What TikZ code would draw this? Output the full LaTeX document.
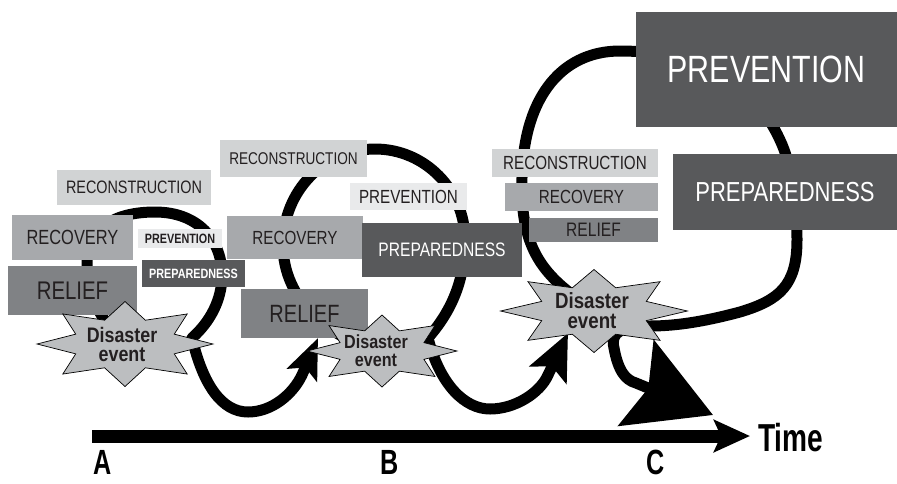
\documentclass[tikz,border=0pt]{standalone}
\usepackage{fontspec}
\setmainfont{Liberation Sans}
\newfontfamily\condfont[FakeStretch=0.8]{Liberation Sans}
\newfontfamily\starfont[FakeStretch=0.85]{Liberation Sans}
\newfontfamily\axisfont[FakeStretch=0.72]{Liberation Sans}
\usetikzlibrary{arrows.meta,shapes.geometric}
\definecolor{palegrey}{HTML}{E9EAEB}
\definecolor{lightgrey}{HTML}{D1D3D4}
\definecolor{midgrey}{HTML}{A7A9AC}
\definecolor{reliefgrey}{HTML}{808285}
\definecolor{darkgrey}{HTML}{58595B}
\definecolor{stargrey}{HTML}{BCBEC0}
\definecolor{labeltext}{HTML}{231F20}
\begin{document}
\begin{tikzpicture}
[x=1pt, y=-1pt,
  boxDecorate/.style={shape=rectangle, inner sep=0pt, text=labeltext},
  boxPale/.style={boxDecorate, fill=palegrey},
  boxLight/.style={boxDecorate, fill=lightgrey},
  boxMid/.style={boxDecorate, fill=midgrey},
  boxRelief/.style={boxDecorate, fill=reliefgrey},
  boxDark/.style={boxDecorate, fill=darkgrey, text=white},
  starDecorate/.style={shape=star, star points=8, star point ratio=1.65,
    inner sep=0pt, draw=black, line width=0.7pt, fill=stargrey},
  starText/.style={align=center, text=labeltext, inner sep=0pt},
  lineDecorate/.style={line width=11pt, line join=round},
  axisText/.style={inner sep=0pt, anchor=base,
    font=\axisfont\bfseries\fontsize{39}{39}\selectfont}]
\useasboundingbox[fill=white] (0,0) rectangle (897,483);
%% centres of the disaster events and arrow ends
\coordinate (centreA) at (125,344);
\coordinate (centreB) at (382,351);
\coordinate (centreC) at (594,311);
\coordinate (tipB) at (318,338);
\coordinate (tipC) at (568,333);
\coordinate (tipEnd) at (713,415);
\coordinate (axisStart) at (92,436);
\coordinate (axisEnd) at (750,436);
%% cycle lines
\draw[lineDecorate, -{Stealth[length=40pt,width=32pt,inset=8pt]}]
  (centreA) .. controls (100,320) and (87,295) .. (87,262)
  .. controls (87,228) and (115,212) .. (155,212)
  .. controls (198,212) and (222,240) .. (222,275)
  .. controls (222,300) and (210,322) .. (192,338)
  .. controls (203,385) and (222,412) .. (248,412)
  .. controls (272,412) and (293,394) .. (302,375) -- (tipB);
\draw[lineDecorate, -{Stealth[length=46pt,width=40pt,inset=9pt]}]
  (centreB) .. controls (330,340) and (283,300) .. (283,245)
  .. controls (283,190) and (325,149) .. (375,149)
  .. controls (425,149) and (465,190) .. (465,240)
  .. controls (465,285) and (448,315) .. (428,338)
  .. controls (440,385) and (465,409) .. (490,409)
  .. controls (515,409) and (540,393) .. (548,375) -- (tipC);
\draw[lineDecorate, -{Stealth[length=83pt,width=92pt,inset=13pt]}]
  (centreC) .. controls (560,285) and (522,265) .. (522,190)
  .. controls (520,100) and (560,51) .. (620,51)
  .. controls (700,51) and (755,85) .. (780,140)
  .. controls (792,165) and (797,205) .. (797,240)
  .. controls (797,285) and (780,300) .. (740,312)
  .. controls (710,320) and (680,326) .. (650,326)
  .. controls (622,326) and (610,332) .. (614,348)
  .. controls (618,370) and (625,380) .. (636,383) -- (tipEnd);
%% phase boxes
\foreach \boxname/\x/\y/\w/\h/\tone/\fsize/\word in {
  reconA/134/187.5/154/35/boxLight/18/RECONSTRUCTION,
  recovA/72.5/237.5/121/45/boxMid/20.5/RECOVERY,
  prevA/180/238.5/84/19/boxPale/13.5/{\bfseries PREVENTION},
  prepA/193.5/273.5/103/27/boxDark/13.5/{\bfseries PREPAREDNESS},
  reliefA/72.5/290.5/129/49/boxRelief/25.5/RELIEF,
  reconB/293.5/158.5/147/37/boxLight/17/RECONSTRUCTION,
  prevB/408.5/196.5/117/27/boxPale/19/PREVENTION,
  recovB/295/237.5/136/43/boxMid/19/RECOVERY,
  prepB/442/250/160/54/boxDark/19.5/PREPAREDNESS,
  reliefB/304.5/313.5/127/49/boxRelief/25/RELIEF,
  prevC/766.5/69.5/261/115/boxDark/38/PREVENTION,
  prepC/785/192/224/76/boxDark/27.5/PREPAREDNESS,
  reconC/575/163/166/28/boxLight/19/RECONSTRUCTION,
  recovC/581.5/197/153/28/boxMid/19/RECOVERY,
  reliefC/593.5/230/129/24/boxRelief/19.5/RELIEF}
{
  \node (\boxname) at (\x,\y) [\tone, minimum width=\w, minimum height=\h,
    font=\condfont\fontsize{\fsize}{\fsize}\selectfont] {\word};
}
%% disaster events
\foreach \nodename/\diam/\stretch/\fsize/\skip/\tx in {
  A/85/2.07/21/19/-3, B/72/2.08/19/18/-6, C/83/2.25/22/20/-2}
{
  \node (star\nodename) at (centre\nodename) [starDecorate,
    minimum size=\diam, xscale=\stretch] {};
  \node (event\nodename) at (star\nodename.center) [starText, xshift=\tx,
    font=\starfont\bfseries\fontsize{\fsize}{\skip}\selectfont] {Disaster\\event};
}
%% time axis
\draw[line width=13pt, -{Stealth[length=36pt,width=32pt,inset=7pt]}]
  (axisStart) -- (axisEnd);
\node (time) at (758,451) [axisText, anchor=base west] {Time};
\foreach \nodename/\x in {A/103, B/390, C/656}
  \node (mark\nodename) at (\x,474) [axisText,
    font=\axisfont\bfseries\fontsize{35}{35}\selectfont] {\nodename};
\end{tikzpicture}
\end{document}
